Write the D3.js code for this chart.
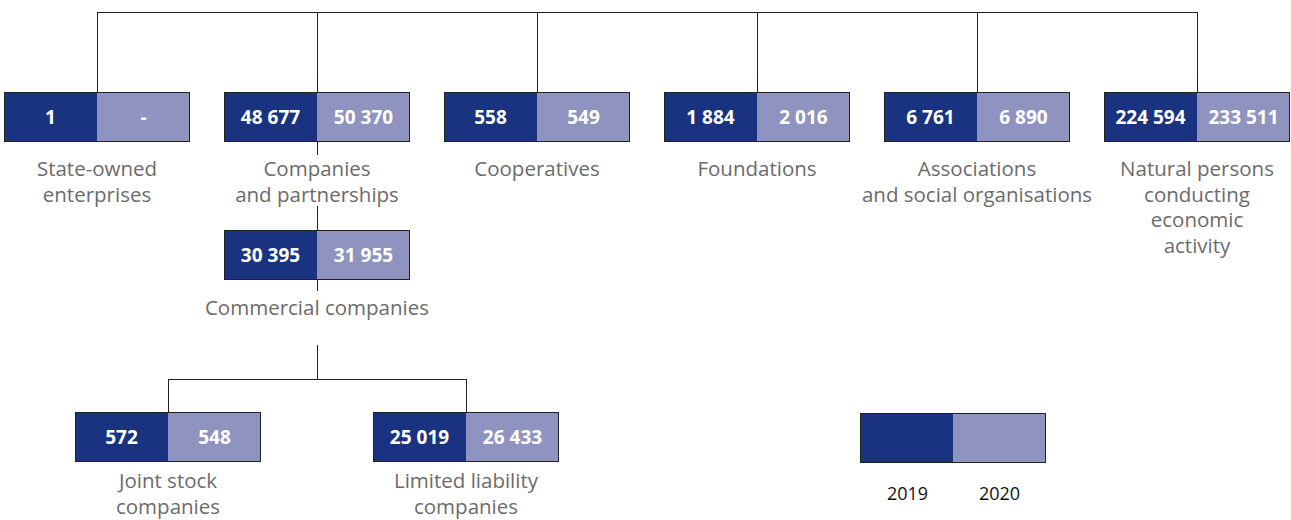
<!DOCTYPE html>
<html><head><meta charset="utf-8">
<script src="https://cdn.jsdelivr.net/npm/d3@7"></script>
<style>
body{margin:0;background:#fff;}
svg{display:block;}
</style></head>
<body>
<svg id="chart" width="1291" height="520"></svg>
<script>
// ---- data ----
const topCategories = ["State-owned\nenterprises","Companies\nand partnerships","Cooperatives","Foundations","Associations\nand social organisations","Natural persons\nconducting\neconomic\nactivity"];
const top2019 = ["1","48 677","558","1 884","6 761","224 594"];
const top2020 = ["-","50 370","549","2 016","6 890","233 511"];
const subCategory = "Commercial companies";
const sub2019 = "30 395";
const sub2020 = "31 955";
const leafCategories = ["Joint stock\ncompanies","Limited liability\ncompanies"];
const leaf2019 = ["572","25 019"];
const leaf2020 = ["548","26 433"];
const years = ["2019","2020"];

// ---- styles/layout ----
const dark = "#1a3380", light = "#8f93bf", lineCol = "#222";
const halfW = 93, boxH = 50;
const font = "'Open Sans', 'Noto Sans', sans-serif";
const labelSize = 20.5, valueSize = 19, lineGap = 25.5;

const svg = d3.select("#chart");
const x = d3.scalePoint().domain(d3.range(topCategories.length)).range([97, 1197]);
const yLevel = d3.scaleOrdinal().domain([0,1,2,3]).range([12, 92, 230, 412]);

const g = svg.append("g");

function line(x1,y1,x2,y2){
  g.append("line").attr("x1",x1).attr("y1",y1).attr("x2",x2).attr("y2",y2)
   .attr("stroke",lineCol).attr("stroke-width",1).attr("shape-rendering","crispEdges");
}

function box(cx, y, v1, v2, label, labelOffset){
  const b = g.append("g");
  b.append("rect").attr("x",cx-halfW).attr("y",y).attr("width",halfW).attr("height",boxH)
    .attr("fill",dark);
  b.append("rect").attr("x",cx).attr("y",y).attr("width",halfW).attr("height",boxH)
    .attr("fill",light);
  b.append("rect").attr("x",cx-halfW+0.5).attr("y",y+0.5).attr("width",halfW*2-1).attr("height",boxH-1)
    .attr("fill","none").attr("stroke",lineCol).attr("stroke-width",1);
  if (v1 !== null) {
    [[v1,cx-halfW/2],[v2,cx+halfW/2]].forEach(([t,tx])=>{
      b.append("text").attr("x",tx).attr("y",y+boxH/2).attr("dy","0.36em")
       .attr("text-anchor","middle").attr("fill","#fff").attr("font-weight","bold")
       .attr("font-family",font).attr("font-size",valueSize).text(t);
    });
  }
  if (label) {
    const lines = label.split("\n");
    const t = b.append("text").attr("text-anchor","middle").attr("fill","#6b6b6b")
      .attr("font-family",font).attr("font-size",labelSize);
    lines.forEach((l,i)=>{
      t.append("tspan").attr("x",cx).attr("y",y+boxH+labelOffset+i*lineGap).text(l);
    });
  }
}

// top connector
line(x(0), yLevel(0), x(topCategories.length-1), yLevel(0));
topCategories.forEach((c,i)=>{
  line(x(i), yLevel(0), x(i), yLevel(1));
  box(x(i), yLevel(1), top2019[i], top2020[i], c, 34);
});

// companies -> commercial
const cx1 = x(1);
line(cx1, yLevel(1)+boxH, cx1, yLevel(1)+boxH+13);
line(cx1, yLevel(1)+114, cx1, yLevel(2));
box(cx1, yLevel(2), sub2019, sub2020, subCategory, 35);

// commercial -> leaves
const leafOffset = 149;
const leafX = d3.scalePoint().domain(d3.range(leafCategories.length)).range([cx1-leafOffset, cx1+leafOffset]);
line(cx1, yLevel(2)+boxH, cx1, yLevel(2)+boxH+11);
line(cx1, yLevel(2)+115, cx1, yLevel(3)-33);
line(leafX(0), yLevel(3)-33, leafX(1), yLevel(3)-33);
leafCategories.forEach((c,i)=>{
  line(leafX(i), yLevel(3)-33, leafX(i), yLevel(3));
  box(leafX(i), yLevel(3), leaf2019[i], leaf2020[i], c, 26);
});

// legend
const lx = 953, ly = 413;
box(lx, ly, null, null, null, 0);
years.forEach((yv,i)=>{
  g.append("text").attr("x", lx + (i===0?-halfW/2+1:halfW/2)).attr("y", ly+boxH+37)
   .attr("text-anchor","middle").attr("fill","#111").attr("font-family",font)
   .attr("font-size",18).text(yv);
});
</script>
</body></html>
